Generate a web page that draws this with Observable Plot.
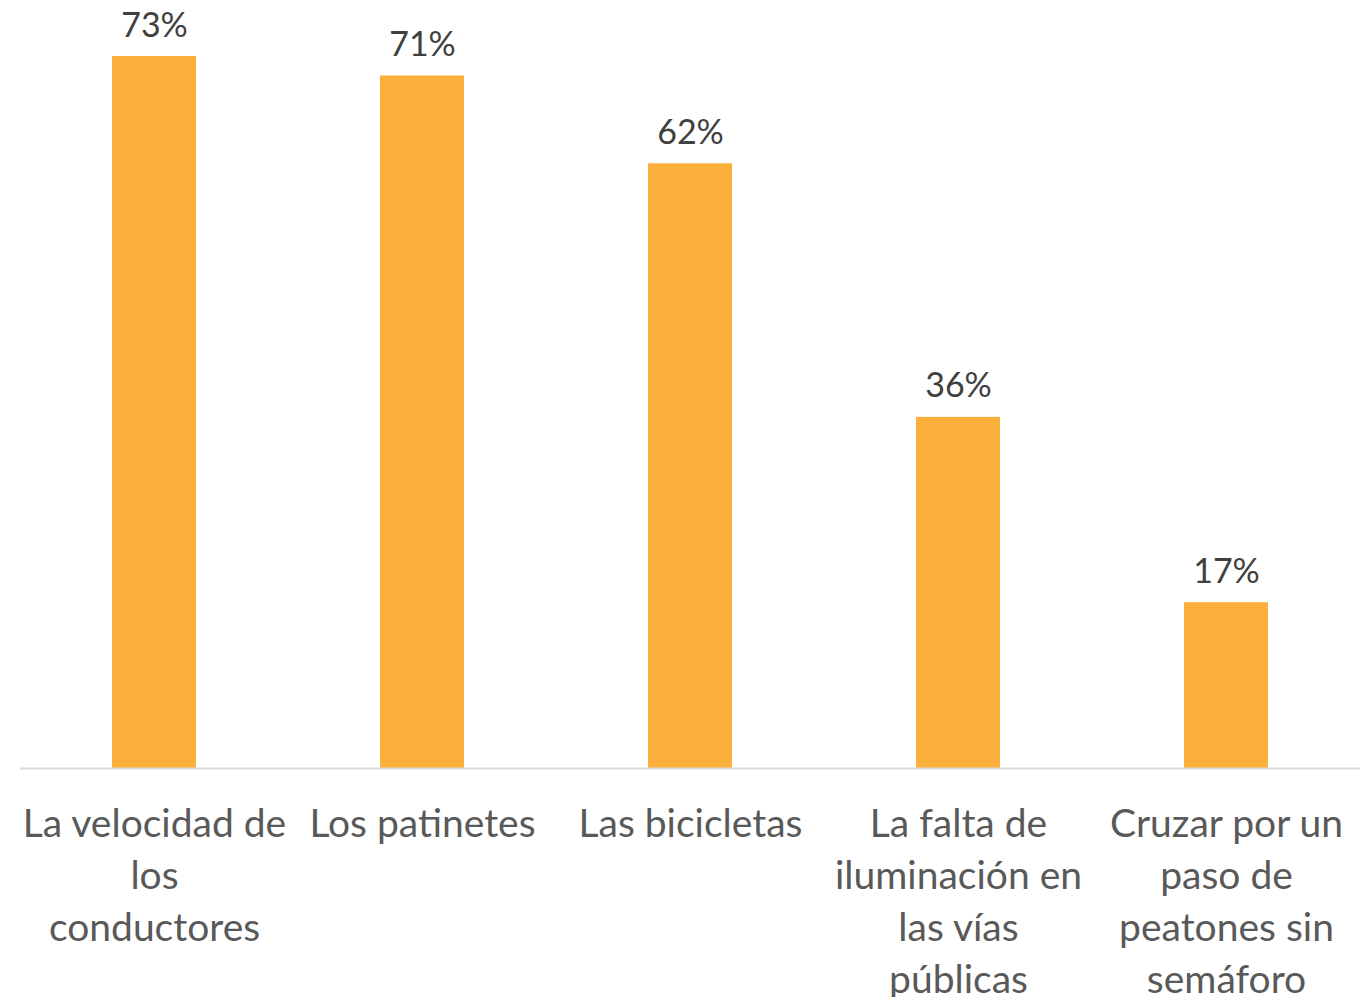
<!DOCTYPE html>
<html>
<head>
<meta charset="utf-8">
<script src="https://cdn.jsdelivr.net/npm/d3@7"></script>
<script src="https://cdn.jsdelivr.net/npm/@observablehq/plot@0.6"></script>
<style>
  html, body { margin: 0; padding: 0; background: #fff; }
  #chart svg { display: block; }
</style>
</head>
<body>
<div id="chart"></div>
<script>
const categories = [
  "La velocidad de los conductores",
  "Los patinetes",
  "Las bicicletas",
  "La falta de iluminación en las vías públicas",
  "Cruzar por un paso de peatones sin semáforo"
];
const tickLabels = [
  "La velocidad de\nlos\nconductores",
  "Los patinetes",
  "Las bicicletas",
  "La falta de\niluminación en\nlas vías\npúblicas",
  "Cruzar por un\npaso de\npeatones sin\nsemáforo"
];
const values = [73, 71, 62, 36, 17];

const data = categories.map((c, i) => ({cat: c, label: tickLabels[i], value: values[i]}));

const chart = Plot.plot({
  width: 1371,
  height: 997,
  marginLeft: 20,
  marginRight: 11,
  marginTop: 56,
  marginBottom: 229,
  style: {fontFamily: "Lato, 'Open Sans', sans-serif", background: "#fff"},
  x: {domain: categories, paddingInner: 0.687, paddingOuter: 0.3435, align: 0.5, axis: null},
  y: {domain: [0, 73], axis: null},
  marks: [
    Plot.barY(data, {x: "cat", y: "value", fill: "#FBB03B"}),
    Plot.ruleY([0], {stroke: "#d9d9d9", strokeWidth: 2}),
    Plot.text(data, {x: "cat", y: "value", text: d => d.value + "%", lineAnchor: "bottom", dy: -20, fontSize: 34, fill: "#404040"}),
    Plot.text(data, {x: "cat", y: 0, text: "label", lineAnchor: "top", dy: 32, fontSize: 39, lineHeight: 1.33, fill: "#595959"})
  ]
});
document.getElementById("chart").appendChild(chart);
</script>
</body>
</html>
